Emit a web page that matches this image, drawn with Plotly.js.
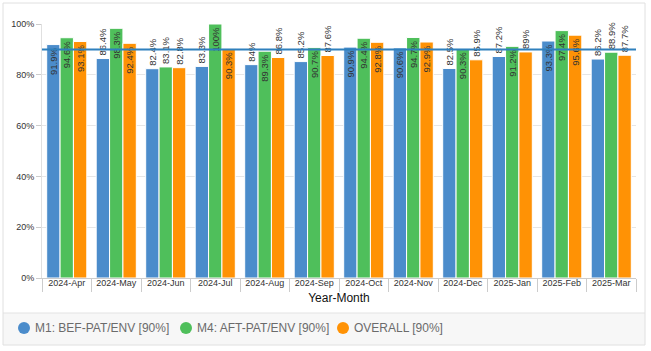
<!DOCTYPE html>
<html>
<head>
<meta charset="utf-8">
<script src="https://cdn.plot.ly/plotly-3.0.1.min.js"></script>
<style>
html,body{margin:0;padding:0;background:#fff;}
#chart{width:651px;height:351px;}
</style>
</head>
<body>
<div id="chart"></div>
<script>
var categories = ["2024-Apr","2024-May","2024-Jun","2024-Jul","2024-Aug","2024-Sep","2024-Oct","2024-Nov","2024-Dec","2025-Jan","2025-Feb","2025-Mar"];
var m1Values = [91.9, 86.4, 82.4, 83.3, 84, 85.2, 90.9, 90.6, 82.5, 87.2, 93.3, 86.2];
var m4Values = [94.6, 98.3, 83.1, 100, 89.3, 90.7, 94.4, 94.7, 90.3, 91.2, 97.4, 88.9];
var overallValues = [93.1, 92.4, 82.8, 90.3, 86.8, 87.6, 92.8, 92.9, 85.9, 89, 95.6, 87.7];
var seriesNames = ["M1: BEF-PAT/ENV [90%]", "M4: AFT-PAT/ENV [90%]", "OVERALL [90%]"];
var targetValue = 90;
var yTickVals = [0, 20, 40, 60, 80, 100];

var colors = ["#4b8ccb", "#4fbf5b", "#ff9205"];
var allSeries = [m1Values, m4Values, overallValues];

function fmt(v){ return (Math.round(v*10)/10) + "%"; }
function pos(v){ return v >= 89.2 ? "inside" : "outside"; }

var traces = [];
allSeries.forEach(function(vals, i){
  traces.push({
    type: "bar",
    x: categories,
    y: vals,
    name: seriesNames[i],
    showlegend: false,
    marker: {color: colors[i], line: {color: "#ffffff", width: 1}},
    text: vals.map(fmt),
    textposition: vals.map(pos),
    insidetextanchor: "end",
    textangle: -90,
    constraintext: "none",
    cliponaxis: false,
    textfont: {family: "Liberation Sans, Arial, sans-serif", size: 9.5, color: "#333333"},
    hoverinfo: "x+y+name"
  });
});

var ml = 42, mt = 24, pw = 594, ph = 254;
function px2x(px){ return (px - ml) / pw; }
function py2y(py){ return (mt + ph - py) / ph; }

var shapes = [
  {type: "rect", xref: "paper", yref: "paper", x0: px2x(3), x1: px2x(645), y0: py2y(345), y1: py2y(313),
   fillcolor: "#f7f7f7", line: {width: 0}, layer: "below"},
  {type: "line", xref: "paper", yref: "paper", x0: px2x(3), x1: px2x(645), y0: py2y(313), y1: py2y(313),
   line: {color: "#e3e3e3", width: 1}},
  {type: "rect", xref: "paper", yref: "paper", x0: px2x(3), x1: px2x(645), y0: py2y(345), y1: py2y(3),
   fillcolor: "rgba(0,0,0,0)", line: {color: "#e0e0e0", width: 1}},
  {type: "line", xref: "paper", yref: "y", x0: 0, x1: 1, y0: targetValue, y1: targetValue,
   line: {color: "#2f80bd", width: 2}, layer: "above"}
];
var annotations = [];
var legendX = [24, 186, 343];
var legendY = 328;
seriesNames.forEach(function(name, i){
  var cx = legendX[i], r = 6;
  shapes.push({type: "circle", xref: "paper", yref: "paper",
    x0: px2x(cx - r), x1: px2x(cx + r), y0: py2y(legendY + r), y1: py2y(legendY - r),
    fillcolor: colors[i], line: {width: 0}});
  annotations.push({xref: "paper", yref: "paper", x: px2x(cx + 9), y: py2y(legendY),
    xanchor: "left", yanchor: "middle", showarrow: false, text: name,
    font: {size: 12, color: "#6b6b6b"}});
});

var layout = {
  width: 651,
  height: 351,
  margin: {l: ml, r: 651 - ml - pw, t: mt, b: 351 - mt - ph},
  paper_bgcolor: "rgba(0,0,0,0)",
  plot_bgcolor: "#ffffff",
  barmode: "group",
  bargap: 0.19,
  bargroupgap: 0,
  showlegend: false,
  font: {family: "Liberation Sans, Arial, sans-serif", color: "#333333"},
  xaxis: {
    type: "category",
    showgrid: false,
    showline: true,
    linecolor: "#cccccc",
    linewidth: 1,
    ticks: "outside",
    tickson: "boundaries",
    ticklen: 13,
    tickcolor: "#cccccc",
    tickangle: 0,
    ticklabelstandoff: -4,
    tickfont: {size: 9, color: "#333333"},
    title: {text: "Year-Month", font: {size: 12, color: "#111111"}, standoff: 6},
    automargin: false,
    fixedrange: true
  },
  yaxis: {
    range: [0, 100],
    tickvals: yTickVals,
    ticktext: yTickVals.map(function(v){ return v + "%"; }),
    showgrid: true,
    gridcolor: "#e6e6e6",
    showline: true,
    linecolor: "#e0e0e0",
    zeroline: false,
    ticks: "outside",
    ticklen: 5,
    tickcolor: "#cccccc",
    tickfont: {size: 9, color: "#333333"},
    automargin: false,
    fixedrange: true
  },
  shapes: shapes,
  annotations: annotations
};

Plotly.newPlot("chart", traces, layout, {displayModeBar: false, staticPlot: true});
</script>
</body>
</html>
